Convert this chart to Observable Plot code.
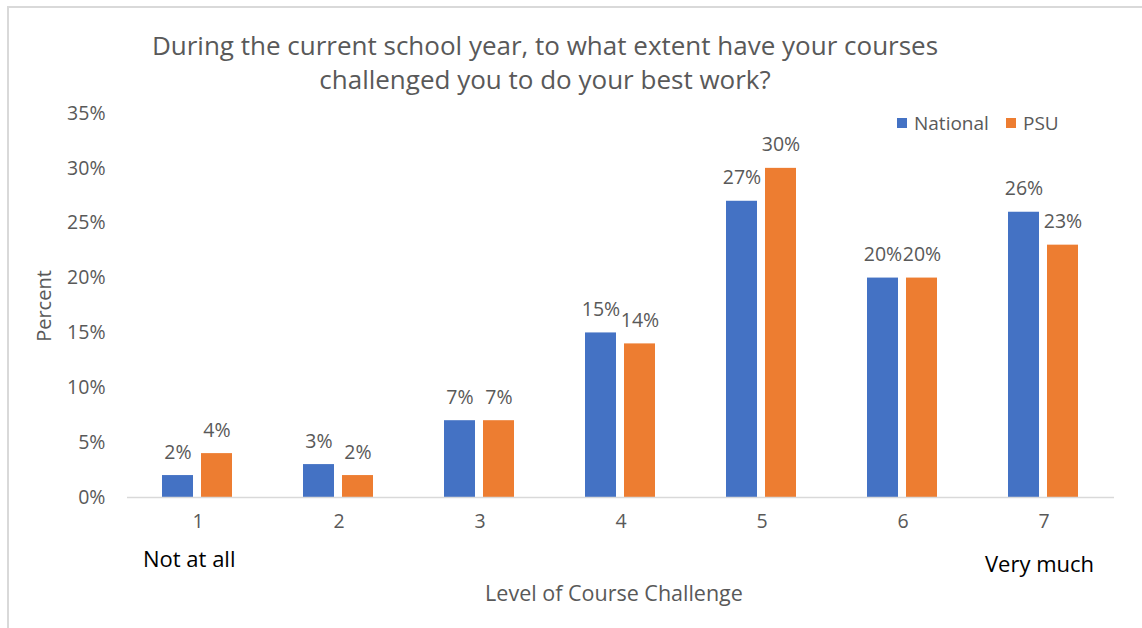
<!DOCTYPE html>
<html>
<head>
<meta charset="utf-8">
<script src="https://cdn.jsdelivr.net/npm/d3@7"></script>
<script src="https://cdn.jsdelivr.net/npm/@observablehq/plot@0.6"></script>
<style>
  html, body { margin: 0; padding: 0; background: #fff; }
  #wrap { position: relative; width: 1142px; height: 628px; overflow: hidden; font-family: "Open Sans", sans-serif; }
  #wrap .t { position: absolute; white-space: nowrap; }
  #border-top { position: absolute; left: 8px; top: 6px; width: 1134px; height: 2px; background: #d9d9d9; }
  #border-left { position: absolute; left: 7px; top: 6px; width: 2px; height: 622px; background: #d9d9d9; }
  #title { left: 0; width: 1090px; top: 28px; text-align: center; font-size: 26px; line-height: 34px; color: #595959; }
  .sw { position: absolute; width: 10px; height: 10px; }
  .lg { font-size: 19px; color: #595959; line-height: 22px; }
</style>
</head>
<body>
<div id="wrap">
  <div id="chart"></div>
  <div id="border-top"></div>
  <div id="border-left"></div>
  <div class="t" id="title">During the current school year, to what extent have your courses<br>challenged you to do your best work?</div>
  <div class="sw" style="left:897px; top:118px; background:#4472C4"></div>
  <div class="t lg" style="left:914px; top:112px;">National</div>
  <div class="sw" style="left:1006px; top:118px; background:#ED7D31"></div>
  <div class="t lg" style="left:1023px; top:112px;">PSU</div>
  <div class="t" style="left:143px; top:543px; font-size:22px; color:#000;">Not at all</div>
  <div class="t" style="left:985px; top:548px; font-size:22px; color:#000;">Very much</div>
  <div class="t" style="left:0; width:1228px; text-align:center; top:578px; font-size:21.5px; color:#595959;">Level of Course Challenge</div>
  <div class="t" style="left:43px; top:306px; font-size:20px; color:#595959; transform: translate(-50%,-50%) rotate(-90deg);">Percent</div>
</div>
<script>
const levels = ["1", "2", "3", "4", "5", "6", "7"];
const seriesNames = ["National", "PSU"];
const national = [2, 3, 7, 15, 27, 20, 26];
const psu = [4, 2, 7, 14, 30, 20, 23];
const yTicks = [0, 5, 10, 15, 20, 25, 30, 35];
const colors = ["#4472C4", "#ED7D31"];

const rows = [];
levels.forEach((lv, i) => {
  rows.push({level: lv, series: seriesNames[0], value: national[i]});
  rows.push({level: lv, series: seriesNames[1], value: psu[i]});
});

const chart = Plot.plot({
  width: 1142,
  height: 628,
  marginLeft: 125,
  marginRight: 27,
  marginTop: 113,
  marginBottom: 131,
  style: {fontFamily: "Open Sans, sans-serif", fontSize: "19.5px", color: "#595959", background: "transparent"},
  fx: {domain: levels, padding: 0, label: null, tickSize: 0, tickPadding: 17},
  x: {domain: seriesNames, paddingInner: 0.2, paddingOuter: 0.87, axis: null},
  y: {domain: [0, 35], ticks: yTicks, tickFormat: d => d + "%", tickSize: 0, tickPadding: 22, label: null},
  color: {domain: seriesNames, range: colors},
  marks: [
    Plot.barY(rows, {fx: "level", x: "series", y: "value", fill: "series"}),
    Plot.ruleY([0], {stroke: "#d9d9d9", strokeWidth: 1.5}),
    Plot.text(rows, {fx: "level", x: "series", y: "value", text: d => d.value + "%", dy: -17, lineAnchor: "bottom", fill: "#595959", fontSize: 19.5})
  ]
});
document.getElementById("chart").appendChild(chart);
</script>
</body>
</html>
